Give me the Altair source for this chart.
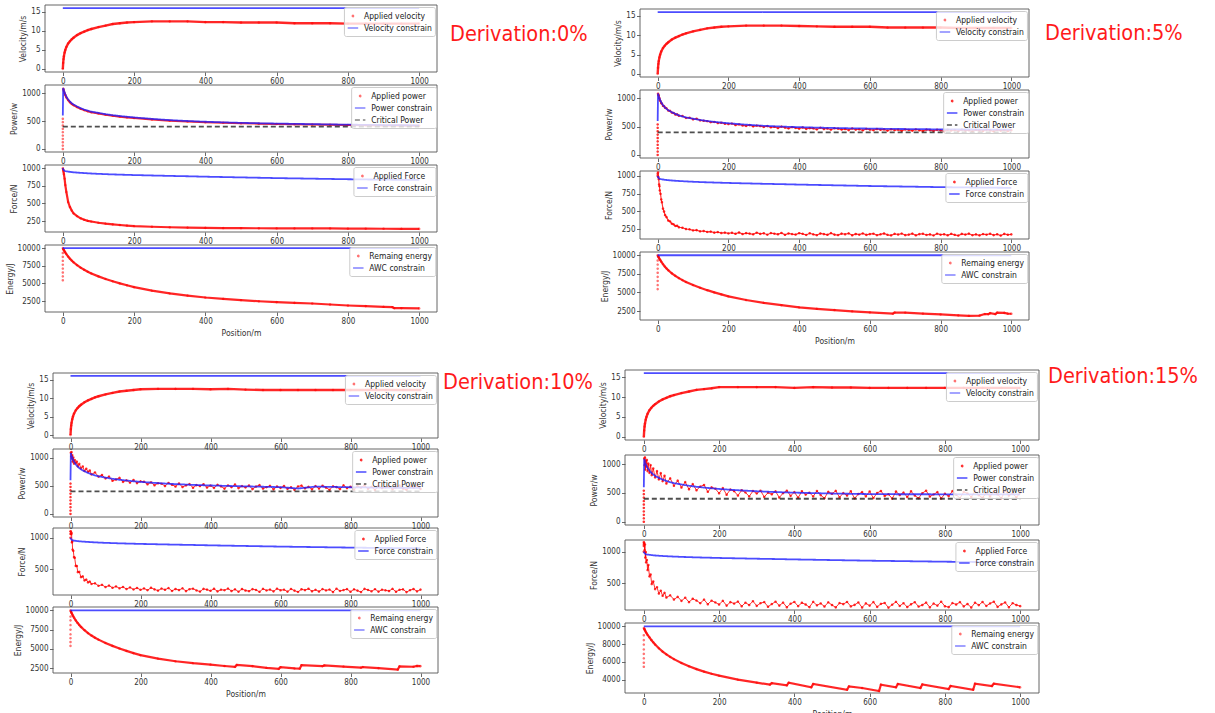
import altair as alt
import pandas as pd

W, H = 1215, 713
FONT = "Liberation Sans Narrow, DejaVu Sans Condensed, Liberation Sans, sans-serif"
RED = "#ff0000"
BLUE = "#1f1fff"
BLACK = "#222222"
DOT = "M-0.13,0A0.13,0.13,0,1,1,0.13,0A0.13,0.13,0,1,1,-0.13,0Z"
DOT_SIZE = 110
LEG_SYM = 110
LEG_FS = 8.5
XDOM = [-50, 1050]
XTICKS = [0, 200, 400, 600, 800, 1000]
X_ENDS = [0, 1000]

DERIV_LABELS = ["Derivation:0%", "Derivation:5%", "Derivation:10%", "Derivation:15%"]

VEL_LABELS = ["Applied velocity", "Velocity constrain"]
POW_LABELS = ["Applied power", "Power constrain", "Critical Power"]
FOR_LABELS = ["Applied Force", "Force constrain"]
ENE_LABELS = ["Remaing energy", "AWC constrain"]

VEL_LIMIT = [16, 16]
CRIT_POWER = [400, 400]
AWC = [10000, 10000]

# coarse position grid (m)
XC = [0, 1, 2, 3, 5, 7, 10, 15, 20, 25, 30, 40, 50, 60, 70, 80, 100, 120, 140, 160, 180, 200,
      250, 300, 350, 400, 450, 500, 550, 600, 650, 700, 750, 800, 850, 900, 950, 1000]
XC1 = XC[1:]
# fine position grid (m)
XF = [1, 2, 3, 4, 5, 6, 8, 10, 12, 15, 18, 21, 25, 30, 35, 40, 45, 50, 55, 60, 70, 80, 90, 100,
      110, 120, 130, 140, 150, 160, 170, 180, 190, 200,
      210, 220, 230, 240, 250, 260, 270, 280, 290, 300,
      310, 320, 330, 340, 350, 360, 370, 380, 390, 400,
      410, 420, 430, 440, 450, 460, 470, 480, 490, 500,
      510, 520, 530, 540, 550, 560, 570, 580, 590, 600,
      610, 620, 630, 640, 650, 660, 670, 680, 690, 700,
      710, 720, 730, 740, 750, 760, 770, 780, 790, 800,
      810, 820, 830, 840, 850, 860, 870, 880, 890, 900,
      910, 920, 930, 940, 950, 960, 970, 980, 990, 1000]

# ---------------- velocity (m/s) ----------------
V0 = [0, 1.6, 2.6, 3.3, 4.3, 5.0, 5.8, 6.7, 7.3, 7.8, 8.2, 8.9, 9.4, 9.8, 10.2, 10.5, 11.0, 11.4, 11.8, 12.0, 12.2, 12.3,
      12.5, 12.5, 12.5, 12.3, 12.3, 12.2, 12.2, 12.2, 12.0, 12.0, 12.0, 11.9, 11.9, 11.9, 11.9, 11.9]
V5 = [0, 1.6, 2.6, 3.3, 4.3, 5.0, 5.8, 6.7, 7.3, 7.8, 8.2, 8.9, 9.4, 9.8, 10.2, 10.5, 11.0, 11.4, 11.8, 12.0, 12.2, 12.3,
      12.5, 12.5, 12.5, 12.4, 12.3, 12.2, 12.2, 12.2, 12.0, 12.0, 12.0, 12.0, 11.9, 11.9, 11.9, 11.9]
V10 = [0, 1.6, 2.6, 3.3, 4.3, 5.0, 5.8, 6.7, 7.3, 7.8, 8.2, 8.9, 9.4, 9.8, 10.2, 10.5, 11.0, 11.4, 11.8, 12.0, 12.2, 12.4,
       12.5, 12.5, 12.5, 12.4, 12.5, 12.3, 12.2, 12.2, 12.2, 12.2, 12.2, 12.2, 12.2, 12.2, 12.2, 12.2]
V15 = [0, 1.6, 2.6, 3.3, 4.3, 5.0, 5.8, 6.7, 7.3, 7.8, 8.2, 8.9, 9.4, 9.8, 10.2, 10.5, 11.0, 11.4, 11.8, 12.0, 12.2, 12.5,
       12.5, 12.5, 12.5, 12.3, 12.5, 12.4, 12.4, 12.3, 12.3, 12.3, 12.3, 12.3, 12.3, 12.3, 12.3, 12.3]

# ---------------- power (W) ----------------
PC0 = [600, 1090, 1072, 1050, 1012, 978, 935, 885, 848, 818, 795, 760, 730, 705, 684, 667, 645, 622, 604, 589, 576, 564,
       538, 516, 500, 487, 476, 467, 460, 454, 449, 444, 439, 435, 431, 428, 425, 422]
PC5 = [600, 1090, 1068, 1045, 1008, 975, 932, 882, 845, 815, 792, 757, 727, 702, 681, 664, 642, 619, 601, 586, 573, 561,
       536, 516, 502, 492, 484, 477, 471, 467, 462, 459, 456, 453, 451, 450, 450, 450]
PC10 = [600, 1085, 1040, 990, 1005, 968, 930, 880, 845, 816, 793, 758, 730, 706, 686, 669, 646, 625, 608, 594, 581, 570,
        548, 530, 516, 506, 498, 490, 483, 476, 452, 486, 480, 474, 470, 467, 465, 463]
PC15 = [600, 1090, 1070, 1035, 1000, 972, 938, 890, 852, 822, 798, 762, 733, 709, 689, 672, 648, 626, 608, 594, 582, 570,
        548, 530, 516, 506, 498, 491, 486, 481, 479, 478, 478, 477, 477, 476, 476, 476]
AP0 = [1080, 1060, 1035, 998, 965, 922, 872, 836, 806, 783, 748, 718, 694, 673, 656, 634, 611, 593, 578, 565, 553,
       527, 506, 490, 478, 468, 460, 453, 447, 442, 437, 433, 429, 425, 422, 419, 416]
AP5 = [1085, 1062, 1048, 1012, 1000, 972, 952, 918, 910, 870, 864, 836, 826, 786, 780, 750, 744, 716, 718, 694, 690, 655, 660, 630,
       642, 612, 606, 598, 580, 584, 566, 570, 552, 548,
       556, 530, 541, 522, 515, 528, 506, 520, 511, 496,
       510, 489, 498, 476, 502, 485, 470, 492, 478, 466,
       486, 462, 475, 470, 452, 481, 460, 468, 447, 472,
       466, 450, 459, 440, 468, 447, 455, 436, 462, 449,
       438, 460, 446, 452, 431, 455, 441, 448, 428, 452,
       443, 430, 452, 437, 424, 449, 440, 426, 446, 435,
       421, 446, 433, 441, 420, 448, 431, 437, 418, 445,
       432, 424, 447, 436, 419, 444, 430, 441, 422, 438]
AP10 = [1090, 1020, 1100, 985, 1045, 930, 1005, 895, 960, 905, 930, 845, 890, 810, 845, 765, 805, 748, 772, 702, 738, 664, 692, 631,
        665, 590, 612, 641, 570, 598, 556, 603, 548, 580,
        572, 528, 561, 510, 545, 538, 496, 551, 519, 488,
        541, 479, 507, 530, 466, 512, 495, 528, 470, 503,
        462, 518, 489, 450, 507, 476, 523, 458, 494, 471,
        505, 441, 487, 512, 452, 476, 500, 436, 489, 463,
        498, 447, 474, 430, 489, 503, 456, 481, 437, 495,
        451, 502, 468, 429, 491, 477, 440, 509, 459, 484,
        433, 495, 470, 508, 447, 482, 426, 499, 461, 476,
        494, 438, 472, 505, 451, 428, 487, 469, 502, 445]
AP15 = [1100, 985, 1120, 905, 1060, 960, 1075, 880, 1010, 850, 985, 810, 925, 770, 880, 735, 845, 705, 800, 665, 755, 625, 715, 595,
        690, 565, 655, 548, 612, 640, 520, 598, 575, 495,
        585, 470, 560, 532, 455, 548, 510, 440, 535, 492,
        540, 432, 505, 478, 528, 421, 497, 540, 450, 515,
        418, 530, 472, 505, 440, 536, 462, 410, 521, 487,
        538, 425, 498, 456, 530, 405, 482, 515, 440, 527,
        412, 500, 535, 448, 478, 402, 526, 465, 508, 430,
        530, 455, 410, 497, 540, 438, 475, 515, 404, 488,
        445, 532, 470, 408, 520, 492, 430, 538, 462, 415,
        505, 440, 528, 478, 410, 536, 455, 495, 420, 512]
POWER_SPIKE = [0, 60, 120, 180, 240, 300, 360, 420, 480, 540]

# ---------------- force (N) ----------------
FC = [1000, 985, 975, 970, 962, 958, 954, 950, 946, 943, 940, 936, 932, 929, 926, 923, 918, 914, 910, 907, 904, 901,
      895, 889, 884, 878, 873, 868, 863, 858, 854, 850, 846, 842, 839, 836, 834, 832]
AF0 = [1000, 975, 950, 915, 850, 760, 660, 520, 450, 400, 360, 320, 290, 270, 255, 245, 228, 215, 205, 196, 188, 181,
       171, 164, 159, 155, 153, 151, 150, 149, 148, 147, 147, 145, 144, 143, 142, 141]
AF5 = [1050, 985, 955, 880, 855, 795, 748, 668, 628, 538, 498, 446, 418, 370, 357, 325, 316, 294, 296, 275, 268, 250, 246, 230,
       234, 218, 222, 209, 214, 199, 207, 194, 200, 188,
       197, 183, 201, 179, 192, 186, 175, 198, 181, 190,
       170, 193, 184, 176, 195, 168, 188, 179, 172, 191,
       182, 166, 190, 175, 163, 187, 178, 169, 192, 171,
       165, 185, 176, 189, 162, 180, 170, 188, 167, 178,
       184, 163, 175, 187, 168, 160, 182, 173, 186, 164,
       171, 185, 161, 178, 183, 166, 174, 159, 184, 170,
       176, 162, 182, 168, 158, 181, 172, 185, 163, 175,
       160, 179, 170, 183, 164, 176, 158, 181, 169, 174]
AF10 = [1100, 1055, 1075, 925, 940, 810, 790, 690, 680, 550, 548, 450, 455, 370, 382, 318, 332, 286, 300, 262, 272, 232, 248, 212,
        236, 200, 222, 192, 214, 180, 206, 174, 198, 168,
        190, 162, 201, 175, 155, 188, 169, 196, 150, 181,
        164, 192, 147, 178, 186, 158, 140, 183, 171, 152,
        185, 143, 170, 162, 188, 149, 176, 138, 181, 157,
        146, 179, 166, 136, 184, 158, 172, 143, 186, 161,
        170, 139, 182, 155, 134, 177, 163, 185, 145, 168,
        141, 180, 158, 172, 133, 186, 150, 164, 179, 137,
        176, 155, 132, 183, 166, 144, 178, 139, 170, 160,
        149, 184, 137, 168, 176, 131, 162, 181, 143, 171]
AF15 = [1140, 1025, 1115, 905, 995, 830, 870, 710, 790, 610, 640, 490, 530, 410, 440, 340, 385, 305, 352, 278, 312, 246, 288, 225,
        275, 205, 258, 230, 188, 245, 172, 228, 200, 168,
        226, 150, 205, 182, 214, 140, 196, 160, 220, 146,
        188, 206, 132, 175, 212, 150, 198, 124, 180, 208,
        142, 195, 168, 126, 210, 155, 184, 136, 202, 160,
        122, 190, 174, 208, 138, 162, 200, 120, 185, 150,
        206, 130, 178, 192, 118, 165, 210, 145, 188, 128,
        172, 204, 135, 160, 198, 122, 182, 150, 212, 140,
        126, 190, 168, 205, 138, 176, 120, 196, 158, 208,
        145, 184, 212, 130, 170, 200, 124, 188, 160, 142]
FORCE_SPIKE5 = [1000, 1030]
FORCE_SPIKE10 = [1000, 1060, 1100]
FORCE_SPIKE15 = [1000, 1090, 1150, 1120]

# ---------------- energy (J) ----------------
XE0 = [0, 1, 2, 3, 5, 7, 10, 15, 20, 25, 30, 40, 50, 60, 70, 80, 100, 120, 140, 160, 180, 200,
       250, 300, 350, 400, 450, 500, 550, 600, 650, 700, 750, 800, 850, 900, 925, 930, 950, 1000]
E0 = [10000, 9900, 9800, 9700, 9530, 9370, 9150, 8800, 8500, 8230, 7990, 7580, 7230, 6930, 6660, 6420, 6000, 5640, 5310, 5010, 4740, 4480,
      3980, 3590, 3280, 3020, 2820, 2640, 2490, 2360, 2260, 2170, 2030, 1890, 1800, 1700, 1650, 1520, 1510, 1480]
XE5 = [0, 1, 2, 3, 5, 7, 10, 15, 20, 25, 30, 40, 50, 60, 70, 80, 100, 120, 140, 160, 180, 200,
       250, 300, 350, 400, 450, 500, 550, 600,
       665, 670, 700, 750, 800, 850, 880, 910, 925, 935, 940, 955, 960, 980, 990, 1000]
E5 = [10000, 9900, 9800, 9700, 9530, 9370, 9150, 8800, 8500, 8230, 7990, 7580, 7230, 6930, 6660, 6420, 6000, 5640, 5310, 5010, 4740, 4480,
      3990, 3610, 3290, 3000, 2800, 2640, 2470, 2320,
      2150, 2310, 2280, 2160, 2050, 1920, 1860, 1900, 2100, 2080, 2220, 2100, 2300, 2260, 2150, 2140]
XE10 = [0, 1, 2, 3, 5, 7, 10, 15, 20, 25, 30, 40, 50, 60, 70, 80, 100, 120, 140, 160, 180, 200,
        250, 300, 350, 400, 440, 470, 475, 520, 560, 595, 600, 640, 655, 660, 720, 725, 780, 830, 835, 880, 935, 940, 980, 990, 1000]
E10 = [10000, 9880, 9770, 9660, 9480, 9300, 9060, 8700, 8390, 8110, 7860, 7430, 7060, 6740, 6460, 6210, 5780, 5400, 5060, 4750, 4460, 4200,
       3760, 3410, 3160, 2980, 2800, 2680, 2930, 2780, 2560, 2420, 2640, 2480, 2450, 2900, 2770, 2870, 2720, 2580, 2660, 2520, 2330, 2750, 2700, 2800, 2780]
XE15 = [0, 1, 2, 3, 5, 7, 10, 15, 20, 25, 30, 40, 50, 60, 70, 80, 100, 120, 140, 160, 180, 200,
        250, 300, 335, 340, 380, 385, 445, 450, 540, 545, 580, 625, 630, 670, 675, 735, 740, 810, 815, 875, 880, 925, 930, 1000]
E15 = [9800, 9750, 9660, 9560, 9400, 9250, 9050, 8750, 8460, 8200, 7960, 7530, 7160, 6840, 6560, 6310, 5880, 5510, 5190, 4910, 4660, 4450,
       4000, 3660, 3440, 3620, 3360, 3660, 3140, 3510, 2870, 3250, 3060, 2720, 3440, 3140, 3510, 3060, 3470, 2950, 3290, 2870, 3550, 3290, 3550, 3140]
ENERGY_SPIKE0 = [9300, 8750, 8200, 7650, 7100, 6550, 6000, 5450]
ENERGY_SPIKE5 = [9300, 8750, 8200, 7650, 7100, 6550, 6000, 5450]
ENERGY_SPIKE10 = [9200, 8700, 8100, 7500, 6900, 6400, 5900, 5400]
ENERGY_SPIKE15 = [9000, 8450, 7950, 7400, 6900, 6400, 5900, 5450]

# approximate glyph advances (em) used only to right-align legends in their boxes
CHAR_EM = {"a": .613, "b": .635, "c": .550, "d": .635, "e": .615, "f": .352, "g": .635, "h": .634, "i": .278,
           "l": .278, "m": .974, "n": .634, "o": .612, "p": .635, "r": .411, "s": .521, "t": .392, "u": .634,
           "v": .592, "w": .818, "y": .592, " ": .318, "A": .684, "C": .698, "F": .575, "P": .603, "R": .695,
           "V": .684, "W": .989}


def text_w(s):
    return sum(CHAR_EM.get(ch, 0.6) for ch in s) * 0.9 * LEG_FS


def zeros(v):
    return [0] * len(v)


def subplot(box, ydom, yticks, ytitle, labels, applied, spikes, constraints, lw, xtitle=None, noisy=False):
    x0, x1, yt, yb = box
    xs = alt.Scale(domain=XDOM, range=[x0, x1], nice=False, zero=False)
    ys = alt.Scale(domain=ydom, range=[yb, yt], nice=False, zero=False)
    xa = alt.Axis(orient="bottom", offset=yb - H, values=XTICKS, title=xtitle, format="d")
    ya = alt.Axis(orient="left", offset=-x0, values=yticks, title=ytitle, format="d")
    X = alt.X("x:Q", scale=xs, axis=xa)
    Y = alt.Y("y:Q", scale=ys, axis=ya)
    n = len(labels)
    colors = [RED, BLUE, BLACK][:n]
    shapes = [DOT, "stroke", "stroke"][:n]
    dashes = [[1, 0], [1, 0], [5, 3]][:n]
    lw_leg = 6 + LEG_SYM ** 0.5 + 5 + max(text_w(s) for s in labels)
    leg = alt.Legend(orient="none", legendX=x1 - 3 - lw_leg, legendY=yt + 2, title=None)
    color = alt.Color("s:N", scale=alt.Scale(domain=labels, range=colors), legend=leg)
    shape = alt.Shape("s:N", scale=alt.Scale(domain=labels, range=shapes), legend=leg)
    dash = alt.StrokeDash("s:N", scale=alt.Scale(domain=labels, range=dashes), legend=leg)

    ax, ay = applied
    sx, sy = spikes
    app_df = pd.DataFrame({"x": ax, "y": ay})
    pts_df = pd.DataFrame({"x": list(ax) + list(sx), "y": list(ay) + list(sy)})
    pts_df["s"] = labels[0]
    rows = []
    for lab, (cx, cy) in zip(labels[1:], constraints):
        for a, b in zip(cx, cy):
            rows.append({"x": a, "y": b, "s": lab})
    con_df = pd.DataFrame(rows)
    fr_df = pd.DataFrame({"x": [XDOM[0]], "x2": [XDOM[1]], "y": [ydom[0]], "y2": [ydom[1]]})

    parts = [alt.Chart(fr_df).mark_rect(fill="white", fillOpacity=0, stroke="#555555", strokeWidth=0.9).encode(
        x=X, x2="x2:Q", y=Y, y2="y2:Q")]
    parts.append(alt.Chart(app_df).mark_line(color=RED, strokeWidth=lw, opacity=0.8 if noisy else 0.85).encode(x=X, y=Y))
    parts.append(alt.Chart(pts_df).mark_point(filled=False, size=DOT_SIZE, strokeWidth=1.2,
                                              opacity=0.8 if noisy else 0.55).encode(
        x=X, y=Y, color=color, shape=shape))
    parts.append(alt.Chart(con_df).mark_line(strokeWidth=1.8, opacity=0.8).encode(
        x=X, y=Y, color=color, strokeDash=dash))
    return alt.layer(*parts)


def group(xl, xr, rows, vel, power, pc, plw, pspike, force, flw, fspike, energy, espike, edom, eticks, pdom, fdom,
          fticks, noisy):
    r = rows
    return [
        subplot((xl, xr, r[0][0], r[0][1]), [-0.8, 16.8], [0, 5, 10, 15], "Velocity/m/s", VEL_LABELS,
                (XC, vel), ([], []), [(X_ENDS, VEL_LIMIT)], 2.4),
        subplot((xl, xr, r[1][0], r[1][1]), pdom, [0, 500, 1000], "Power/w", POW_LABELS,
                power, (zeros(pspike), pspike), [(XC, pc), (X_ENDS, CRIT_POWER)], plw, noisy=noisy),
        subplot((xl, xr, r[2][0], r[2][1]), fdom, fticks, "Force/N", FOR_LABELS,
                force, (zeros(fspike), fspike), [(XC, FC)], flw, noisy=noisy),
        subplot((xl, xr, r[3][0], r[3][1]), edom, eticks, "Energy/J", ENE_LABELS,
                energy, (zeros(espike), espike), [(X_ENDS, AWC)], 2.2, "Position/m"),
    ]


layers = []
layers += group(45, 437, [(5, 72), (85, 152), (165, 232), (245, 312)],
                V0, (XC1, AP0), PC0, 2.0, POWER_SPIKE, (XC, AF0), 2.2, [],
                (XE0, E0), ENERGY_SPIKE0, [970, 10430], [2500, 5000, 7500, 10000],
                [-54, 1144], [97, 1043], [250, 500, 750, 1000], False)
layers += group(640, 1029, [(9, 77), (90, 158), (171, 239), (252, 320)],
                V5, (XF, AP5), PC5, 1.2, POWER_SPIKE, (XF, AF5), 1.2, FORCE_SPIKE5,
                (XE5, E5), ENERGY_SPIKE5, [1300, 10440], [2500, 5000, 7500, 10000],
                [-54, 1150], [109, 1070], [250, 500, 750, 1000], True)
layers += group(53, 438, [(373, 438), (449, 517), (528, 595), (607, 673)],
                V10, (XF, AP10), PC10, 1.0, POWER_SPIKE, (XF, AF10), 1.0, FORCE_SPIKE10,
                (XE10, E10), ENERGY_SPIKE10, [1890, 10435], [2500, 5000, 7500, 10000],
                [-55, 1155], [85, 1155], [500, 1000], True)
layers += group(625, 1039, [(370, 440), (455, 525), (540, 610), (623, 693)],
                V15, (XF, AP15), PC15, 1.0, POWER_SPIKE, (XF, AF15), 1.0, FORCE_SPIKE15,
                (XE15, E15), ENERGY_SPIKE15, [2500, 10376], [4000, 6000, 8000, 10000],
                [-56, 1160], [81, 1184], [500, 1000], True)

TEXT_POS = [(450, 35), (1045, 34), (443, 383), (1048, 377)]
for label, (tx, ty) in zip(DERIV_LABELS, TEXT_POS):
    layers.append(
        alt.Chart(pd.DataFrame({"t": [label]})).mark_text(
            align="left", baseline="middle", font=FONT, fontSize=21.5, color="#ff1a1a"
        ).encode(x=alt.value(tx), y=alt.value(ty), text="t:N")
    )

chart = alt.layer(*layers).resolve_scale(
    x="independent", y="independent", color="independent", shape="independent", strokeDash="independent"
).properties(
    width=W, height=H, autosize=alt.AutoSizeParams(type="none"), padding=0
).configure_axis(
    labelFont=FONT, labelFontSize=8, labelColor="#333333", titleFont=FONT, titleFontSize=8.5,
    titleColor="#333333", titleFontWeight="normal", tickColor="#444444", tickSize=3.5, tickWidth=0.8,
    domain=False, grid=False, labelFlush=False, labelPadding=1.5, titlePadding=3, minExtent=0
).configure_legend(
    labelFont=FONT, labelFontSize=LEG_FS, labelColor="#222222", padding=3, rowPadding=1, symbolSize=LEG_SYM,
    symbolStrokeWidth=1.4, labelOffset=5, strokeColor="#cccccc", fillColor="rgba(255,255,255,0.8)",
    cornerRadius=2, labelLimit=200
).configure_view(strokeWidth=0)

chart.save("out.html", embed_options={"renderer": "svg", "actions": False})
